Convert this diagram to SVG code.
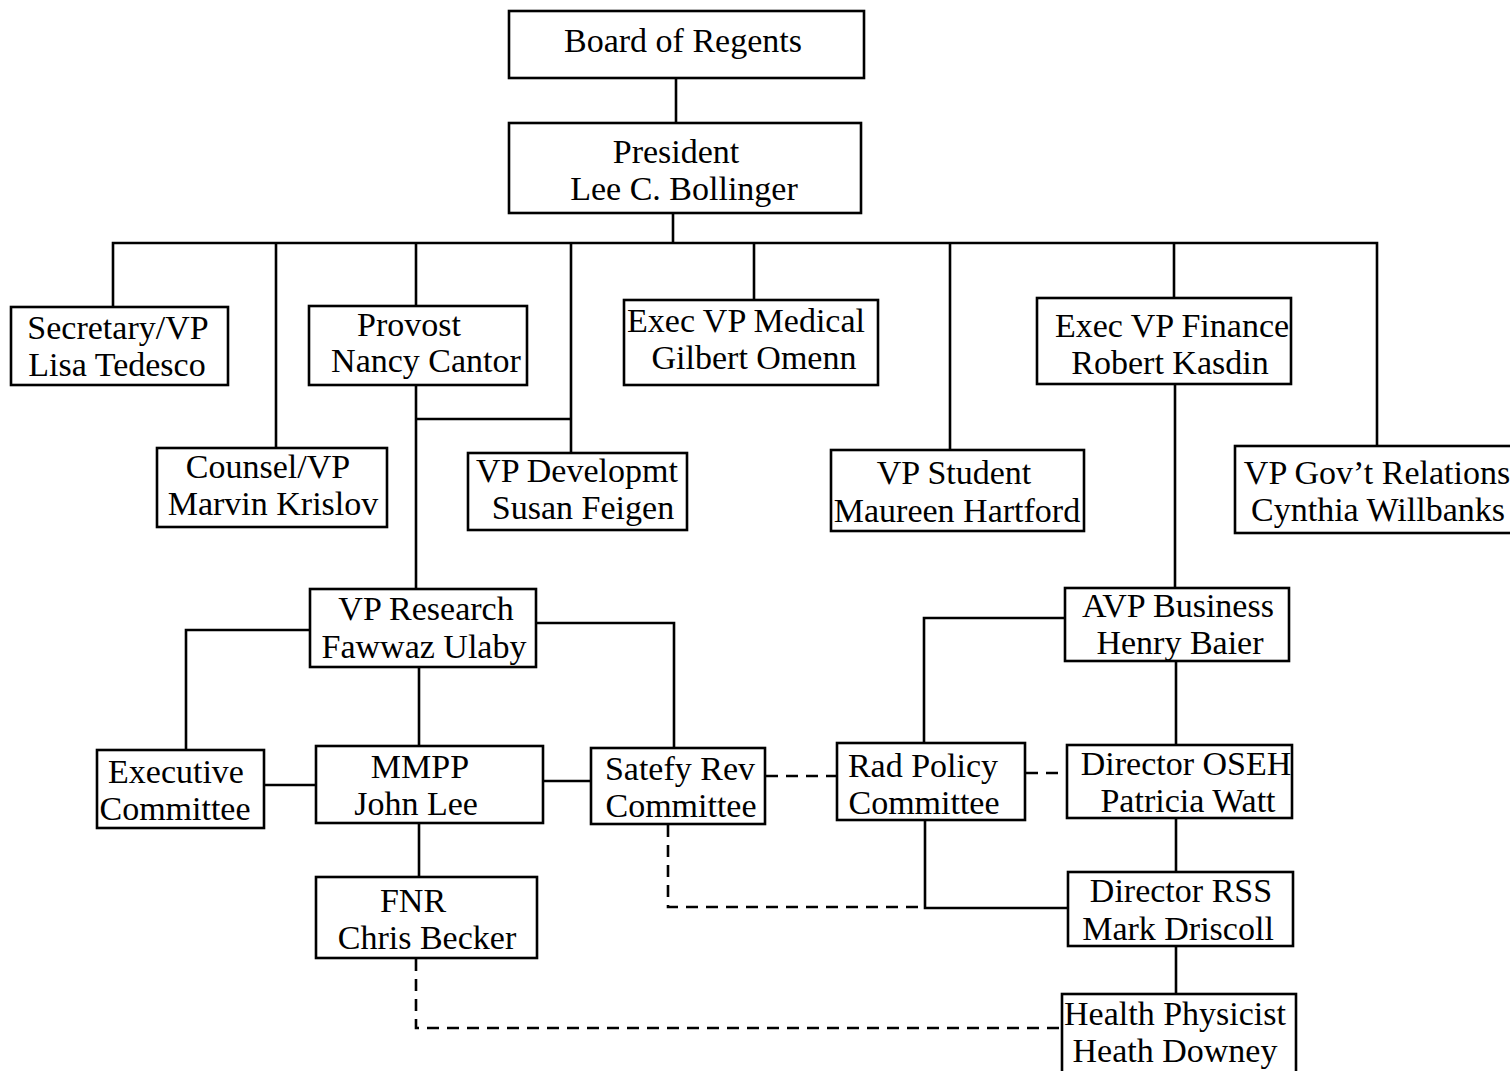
<svg xmlns="http://www.w3.org/2000/svg" width="1510" height="1071" viewBox="0 0 1510 1071">
<style>
rect{fill:#fff;stroke:#000;stroke-width:2.6}
text{font-family:"Liberation Serif","Times New Roman",serif;font-size:34px;fill:#000;text-anchor:middle}
.c path{fill:none;stroke:#000;stroke-width:2.6}
.c .d{stroke-dasharray:12 8}
</style>
<rect x="0" y="0" width="1510" height="1071" style="stroke:none"/>
<g class="c" id="connectors">
<path d="M676 78V123"/>
<path d="M673 213V243"/>
<path d="M113 307V243H1377V446"/>
<path d="M276 243V448"/>
<path d="M416 243V306"/>
<path d="M571 243V453"/>
<path d="M754 243V300"/>
<path d="M950 243V450"/>
<path d="M1174 243V298"/>
<path d="M416 385V589"/>
<path d="M416 419H571"/>
<path d="M1175 384V588"/>
<path d="M310 630H186V750"/>
<path d="M536 623H674V748"/>
<path d="M264 785H316"/>
<path d="M543 781H591"/>
<path d="M419 667V746"/>
<path d="M419 823V877"/>
<path d="M1065 618H924V743"/>
<path d="M925 820V908H1068"/>
<path d="M1176 661V745"/>
<path d="M1176 818V872"/>
<path d="M1176 946V994"/>
<path class="d" d="M766 776H837"/>
<path class="d" d="M1026 773H1067"/>
<path class="d" d="M668 825V907H925"/>
<path class="d" d="M416 959V1028H1062"/>
</g>
<g id="board"><rect x="509" y="11" width="355" height="67"/><text x="683" y="52">Board of Regents</text></g>
<g id="president"><rect x="509" y="123" width="352" height="90"/><text x="676" y="163">President</text><text x="684" y="200">Lee C. Bollinger</text></g>
<g id="secretary"><rect x="11" y="307" width="217" height="78"/><text x="118" y="339">Secretary/VP</text><text x="117" y="376">Lisa Tedesco</text></g>
<g id="provost"><rect x="309" y="306" width="218" height="79"/><text x="409" y="336">Provost</text><text x="426" y="372">Nancy Cantor</text></g>
<g id="medical"><rect x="624" y="300" width="254" height="85"/><text x="746" y="332">Exec VP Medical</text><text x="754" y="369">Gilbert Omenn</text></g>
<g id="finance"><rect x="1037" y="298" width="254" height="86"/><text x="1172" y="337">Exec VP Finance</text><text x="1170" y="374">Robert Kasdin</text></g>
<g id="counsel"><rect x="157" y="448" width="230" height="79"/><text x="268" y="478">Counsel/VP</text><text x="273" y="515">Marvin Krislov</text></g>
<g id="development"><rect x="468" y="453" width="219" height="77"/><text x="577" y="482">VP Developmt</text><text x="583" y="519">Susan Feigen</text></g>
<g id="student"><rect x="831" y="450" width="253" height="81"/><text x="954" y="484">VP Student</text><text x="957" y="522">Maureen Hartford</text></g>
<g id="govrel"><rect x="1235" y="446" width="280" height="87"/><text x="1377" y="484">VP Gov’t Relations</text><text x="1378" y="521">Cynthia Willbanks</text></g>
<g id="research"><rect x="310" y="589" width="226" height="78"/><text x="426" y="620">VP Research</text><text x="424" y="658">Fawwaz Ulaby</text></g>
<g id="executive"><rect x="97" y="750" width="167" height="78"/><text x="176" y="783">Executive</text><text x="175" y="820">Committee</text></g>
<g id="mmpp"><rect x="316" y="746" width="227" height="77"/><text x="420" y="778">MMPP</text><text x="416" y="815">John Lee</text></g>
<g id="safety"><rect x="591" y="748" width="174" height="76"/><text x="680" y="780">Satefy Rev</text><text x="681" y="817">Committee</text></g>
<g id="fnr"><rect x="316" y="877" width="221" height="81"/><text x="413" y="912">FNR</text><text x="427" y="949">Chris Becker</text></g>
<g id="avp"><rect x="1065" y="588" width="224" height="73"/><text x="1178" y="617">AVP Business</text><text x="1180" y="654">Henry Baier</text></g>
<g id="radpolicy"><rect x="837" y="743" width="188" height="77"/><text x="923" y="777">Rad Policy</text><text x="924" y="814">Committee</text></g>
<g id="oseh"><rect x="1067" y="745" width="225" height="73"/><text x="1186" y="775">Director OSEH</text><text x="1188" y="812">Patricia Watt</text></g>
<g id="rss"><rect x="1068" y="872" width="225" height="74"/><text x="1181" y="902">Director RSS</text><text x="1178" y="940">Mark Driscoll</text></g>
<g id="health"><rect x="1062" y="994" width="234" height="90"/><text x="1175" y="1025">Health Physicist</text><text x="1175" y="1062">Heath Downey</text></g>
</svg>
